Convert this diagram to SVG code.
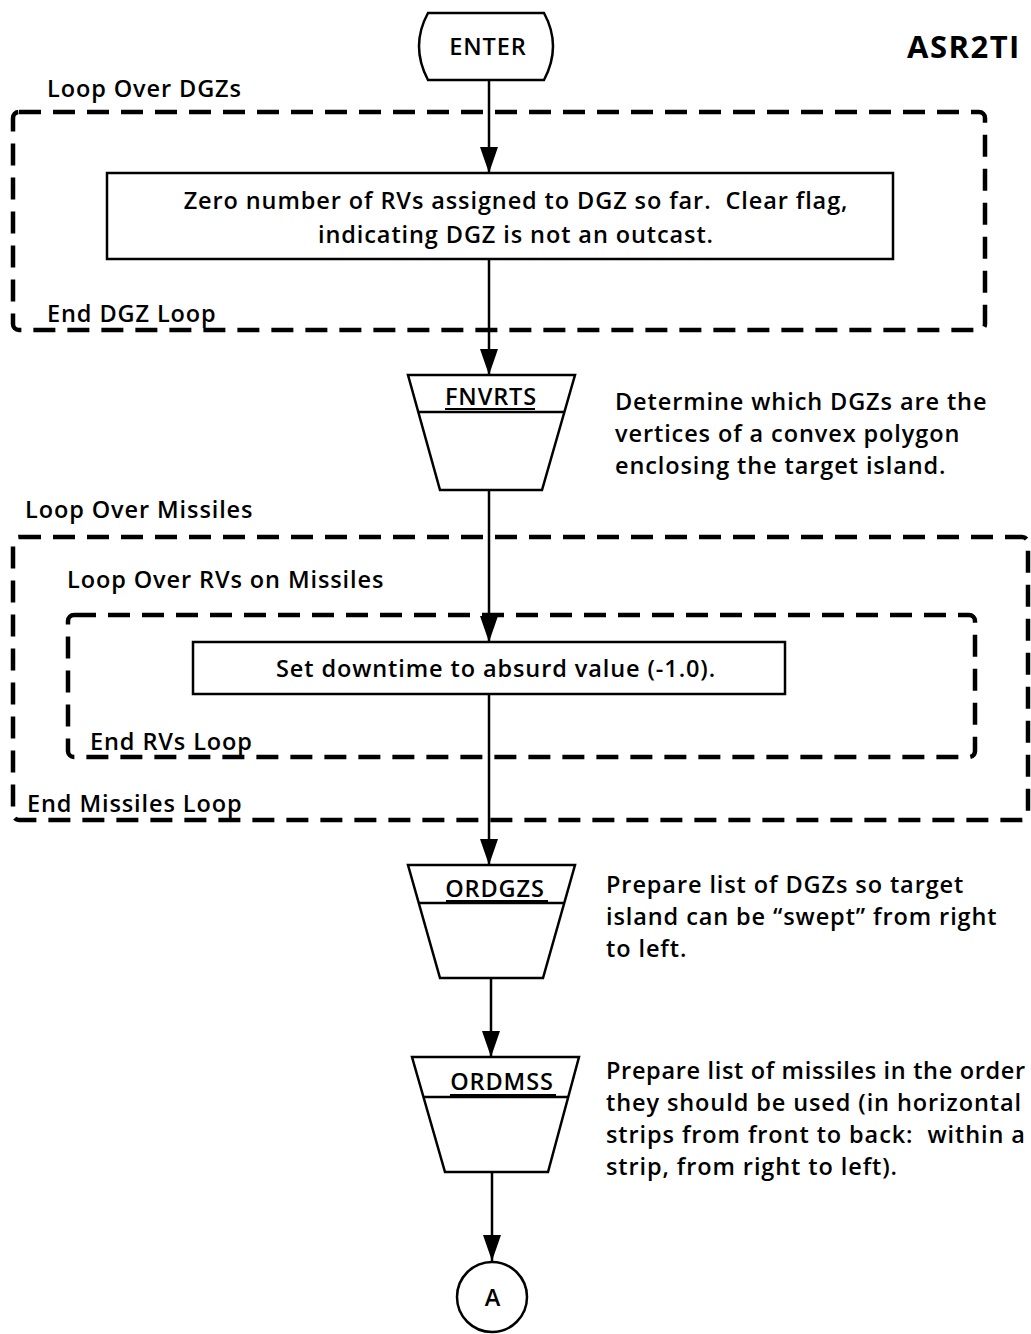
<svg xmlns="http://www.w3.org/2000/svg" width="1031" height="1334" viewBox="0 0 1031 1334">
  <style>
    text { font-family: "Open Sans", "Liberation Sans", sans-serif; font-size: 23.5px; font-weight: 600; letter-spacing: 0.9px; fill: #000; }
    .c { text-anchor: middle; }
    .title { font-weight: bold; font-size: 31px; letter-spacing: 1.5px; }
    .box { fill: #fff; stroke: #000; stroke-width: 2.5; }
    .loop { fill: none; stroke: #000; stroke-width: 4.5; stroke-dasharray: 22 12; stroke-linejoin: round; }
    .flow { stroke: #000; stroke-width: 2.5; fill: none; }
    .ul { stroke: #000; stroke-width: 2; }
  </style>
  <defs>
    <marker id="arrowDown" markerUnits="userSpaceOnUse" markerWidth="28" markerHeight="18" refX="26" refY="9" orient="auto" viewBox="0 0 28 18">
      <path d="M0,0 L26,9 L0,18 Z" fill="#000"/>
    </marker>
  </defs>

  <rect width="1031" height="1334" fill="#fff"/>

  <text class="title" x="907" y="58">ASR2TI</text>

  <!-- loop frames -->
  <g id="loop-dgz">
    <rect class="loop" x="13" y="112" width="972" height="218" rx="6"/>
    <text x="47" y="97">Loop Over DGZs</text>
    <text x="47" y="322">End DGZ Loop</text>
  </g>
  <g id="loop-missiles">
    <rect class="loop" x="13" y="537" width="1015" height="283" rx="6"/>
    <text x="25" y="518">Loop Over Missiles</text>
    <text x="27" y="812">End Missiles Loop</text>
  </g>
  <g id="loop-rvs">
    <rect class="loop" x="68" y="615" width="907" height="142" rx="6"/>
    <text x="67" y="588">Loop Over RVs on Missiles</text>
    <text x="90" y="750">End RVs Loop</text>
  </g>

  <!-- connectors -->
  <g id="connectors">
    <line class="flow" x1="489" y1="80" x2="489" y2="173" marker-end="url(#arrowDown)"/>
    <line class="flow" x1="489" y1="259" x2="489" y2="375" marker-end="url(#arrowDown)"/>
    <line class="flow" x1="489" y1="490" x2="489" y2="642" marker-end="url(#arrowDown)"/>
    <line class="flow" x1="489" y1="694" x2="489" y2="865" marker-end="url(#arrowDown)"/>
    <line class="flow" x1="491" y1="978" x2="491" y2="1057" marker-end="url(#arrowDown)"/>
    <line class="flow" x1="492" y1="1172" x2="492" y2="1261" marker-end="url(#arrowDown)"/>
  </g>

  <g id="enter">
    <path class="box" d="M428,13 L544,13 Q562,46 544,80 L428,80 Q410,46 428,13 Z"/>
    <text class="c" x="488" y="55">ENTER</text>
  </g>

  <g id="zero-dgz">
    <rect class="box" x="107" y="173" width="786" height="86"/>
    <text class="c" x="516" y="209">Zero number of RVs assigned to DGZ so far.&#160; Clear flag,</text>
    <text class="c" x="516" y="243">indicating DGZ is not an outcast.</text>
  </g>

  <g id="fnvrts">
    <path class="box" d="M408,375 L575,375 L542,490 L440,490 Z"/>
    <line class="flow" x1="419" y1="412" x2="564" y2="412"/>
    <text class="c" x="491" y="405">FNVRTS</text>
    <line class="ul" x1="445" y1="409" x2="535" y2="409"/>
  </g>
  <g id="fnvrts-note">
    <text x="615" y="410">Determine which DGZs are the</text>
    <text x="615" y="442">vertices of a convex polygon</text>
    <text x="615" y="474">enclosing the target island.</text>
  </g>

  <g id="set-downtime">
    <rect class="box" x="193" y="642" width="592" height="52"/>
    <text class="c" x="496" y="677">Set downtime to absurd value (-1.0).</text>
  </g>

  <g id="ordgzs">
    <path class="box" d="M408,865 L575,865 L543,978 L440,978 Z"/>
    <line class="flow" x1="419" y1="903" x2="564" y2="903"/>
    <text class="c" x="495" y="897">ORDGZS</text>
    <line class="ul" x1="446" y1="901" x2="548" y2="901"/>
  </g>
  <g id="ordgzs-note">
    <text x="606" y="893">Prepare list of DGZs so target</text>
    <text x="606" y="925">island can be “swept” from right</text>
    <text x="606" y="957">to left.</text>
  </g>

  <g id="ordmss">
    <path class="box" d="M412,1057 L579,1057 L548,1172 L445,1172 Z"/>
    <line class="flow" x1="424" y1="1097" x2="568" y2="1097"/>
    <text class="c" x="502" y="1090">ORDMSS</text>
    <line class="ul" x1="450" y1="1095" x2="556" y2="1095"/>
  </g>
  <g id="ordmss-note">
    <text x="606" y="1079" textLength="420" lengthAdjust="spacing">Prepare list of missiles in the order</text>
    <text x="606" y="1111">they should be used (in horizontal</text>
    <text x="606" y="1143">strips from front to back:&#160; within a</text>
    <text x="606" y="1175">strip, from right to left).</text>
  </g>

  <g id="connector-a">
    <circle class="box" cx="492" cy="1297" r="35"/>
    <text class="c" x="493" y="1306">A</text>
  </g>
</svg>
